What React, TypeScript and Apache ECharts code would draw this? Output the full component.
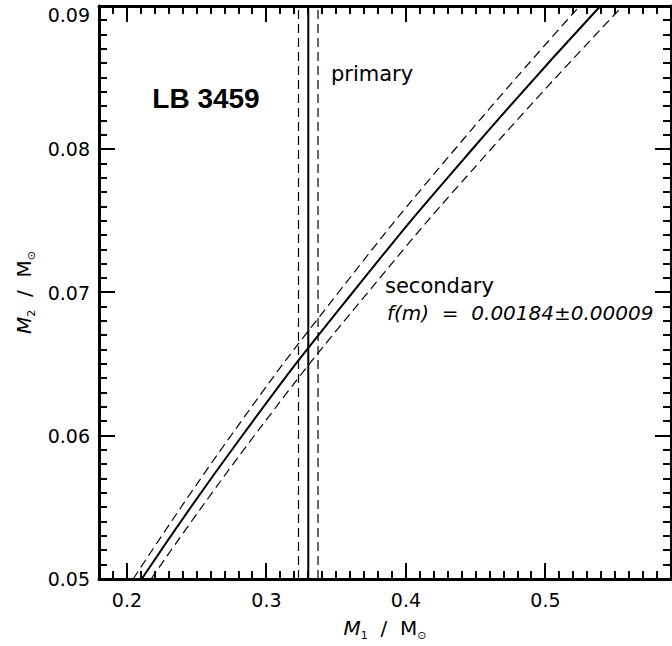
import React, { useEffect, useRef } from "react";
import * as echarts from "echarts";

// Axis ranges and ticks
const X_RANGE = [0.18, 0.59];
const Y_RANGE = [0.05, 0.09];
const X_MAJOR_TICKS = [0.2, 0.3, 0.4, 0.5];
const Y_MAJOR_TICKS = [0.05, 0.06, 0.07, 0.08, 0.09];
const X_MINOR_STEP = 0.01;
const Y_MINOR_STEP = 0.001;

// Secondary: mass-function curve, M2 values and corresponding M1
const SEC_M2 = [0.05, 0.06, 0.07, 0.08, 0.09];
const SEC_M1 = [0.2106, 0.2826, 0.3618, 0.4475, 0.5394];
const SEC_M1_UPPER_F = [0.2045, 0.2745, 0.3516, 0.4351, 0.5246];
const SEC_M1_LOWER_F = [0.2173, 0.2913, 0.3727, 0.4609, 0.5554];

// Primary mass and its error band
const PRIMARY_M1 = 0.33;
const PRIMARY_LOW = 0.323;
const PRIMARY_HIGH = 0.337;

const FONT = "'DejaVu Sans', sans-serif";

const W = 672;
const H = 646;
const GRID = { left: 99, right: 1, top: 6, bottom: 67 };
const MAJOR_LEN = 16;
const MINOR_LEN = 8;

function pairs(xs: number[], ys: number[]) {
  return xs.map((x, i) => [x, ys[i]]);
}

// tick positions along an axis: every minor step inside the range, flagged if major
function tickList(range: number[], step: number, majors: number[]) {
  const out: number[][] = [];
  const n0 = Math.ceil(range[0] / step - 1e-6);
  const n1 = Math.floor(range[1] / step + 1e-6);
  for (let n = n0; n <= n1; n++) {
    const v = Math.round(n * step * 1e6) / 1e6;
    const isMajor = majors.some((m) => Math.abs(m - v) < 1e-9) ? 1 : 0;
    out.push([v, isMajor]);
  }
  return out;
}

export default function App() {
  const ref = useRef<HTMLDivElement>(null);

  useEffect(() => {
    document.body.style.margin = "0";
    const chart = echarts.init(ref.current!, null, { renderer: "svg" });

    const frameLine = () => ({ show: true, onZero: false, lineStyle: { color: "#000", width: 3 } });
    const nameStyle = () => ({
      color: "#000",
      fontFamily: FONT,
      fontSize: 20,
      lineHeight: 26,
      rich: {
        i: { fontStyle: "italic", fontSize: 20, fontFamily: FONT, color: "#000", lineHeight: 26 },
        s: { fontSize: 11, fontFamily: FONT, color: "#000", verticalAlign: "bottom", lineHeight: 12 },
      },
    });

    const xMain = {
      type: "value",
      position: "bottom",
      min: X_RANGE[0],
      max: X_RANGE[1],
      splitLine: { show: false },
      axisLine: frameLine(),
      axisTick: { show: false },
      axisLabel: {
        show: true,
        customValues: X_MAJOR_TICKS,
        formatter: (v: number) => v.toFixed(1),
        color: "#000",
        fontFamily: FONT,
        fontSize: 19,
        margin: 11,
      },
      name: "{i|M}{s|1}  /  M{s|⊙}",
      nameLocation: "middle",
      nameGap: 36,
      nameTextStyle: nameStyle(),
    };
    const xTop = {
      type: "value",
      position: "top",
      min: X_RANGE[0],
      max: X_RANGE[1],
      splitLine: { show: false },
      axisLine: frameLine(),
      axisTick: { show: false },
      axisLabel: { show: false },
    };
    const yMain = {
      type: "value",
      position: "left",
      min: Y_RANGE[0],
      max: Y_RANGE[1],
      splitLine: { show: false },
      axisLine: frameLine(),
      axisTick: { show: false },
      axisLabel: {
        show: true,
        customValues: Y_MAJOR_TICKS,
        formatter: (v: number) =>
          Math.abs(v - Y_RANGE[1]) < 1e-9 ? "{top|" + v.toFixed(2) + "}" : v.toFixed(2),
        color: "#000",
        fontFamily: FONT,
        fontSize: 19,
        margin: 9,
        rich: { top: { fontFamily: FONT, fontSize: 19, color: "#000", padding: [18, 0, 0, 0] } },
      },
      name: "{i|M}{s|2}  /  M{s|⊙}",
      nameLocation: "middle",
      nameGap: 60,
      nameTextStyle: nameStyle(),
    };
    const yRight = {
      type: "value",
      position: "right",
      min: Y_RANGE[0],
      max: Y_RANGE[1],
      splitLine: { show: false },
      axisLine: frameLine(),
      axisTick: { show: false },
      axisLabel: { show: false },
    };

    const tickLine = (x1: number, y1: number, x2: number, y2: number) => ({
      type: "line",
      shape: { x1: Math.round(x1), y1: Math.round(y1), x2: Math.round(x2), y2: Math.round(y2) },
      style: { stroke: "#000000", lineWidth: 2, opacity: 1 },
    });

    // inward ticks on bottom and top frame, placed through the x scale
    const xTickSeries = {
      type: "custom",
      xAxisIndex: 0,
      yAxisIndex: 0,
      silent: true,
      clip: false,
      z: 10,
      data: tickList(X_RANGE, X_MINOR_STEP, X_MAJOR_TICKS).map((t) => [t[0], Y_RANGE[0], t[1]]),
      encode: { x: 0, y: 1 },
      renderItem: (params: any, api: any) => {
        const v = api.value(0);
        const len = api.value(2) ? MAJOR_LEN : MINOR_LEN;
        const b = api.coord([v, Y_RANGE[0]]);
        const t = api.coord([v, Y_RANGE[1]]);
        return {
          type: "group",
          children: [tickLine(b[0], b[1], b[0], b[1] - len), tickLine(t[0], t[1], t[0], t[1] + len)],
        };
      },
    };
    // inward ticks on left and right frame, placed through the y scale
    const yTickSeries = {
      type: "custom",
      xAxisIndex: 0,
      yAxisIndex: 0,
      silent: true,
      clip: false,
      z: 10,
      data: tickList(Y_RANGE, Y_MINOR_STEP, Y_MAJOR_TICKS).map((t) => [X_RANGE[0], t[0], t[1]]),
      encode: { x: 0, y: 1 },
      renderItem: (params: any, api: any) => {
        const v = api.value(1);
        const len = api.value(2) ? MAJOR_LEN : MINOR_LEN;
        const l = api.coord([X_RANGE[0], v]);
        const r = api.coord([X_RANGE[1], v]);
        return {
          type: "group",
          children: [tickLine(l[0], l[1], l[0] + len, l[1]), tickLine(r[0], r[1], r[0] - len, r[1])],
        };
      },
    };

    const solid = { color: "#000", width: 2, type: "solid" };
    const dashed = { color: "#000", width: 1.2, type: [9, 5] };

    const vline = (x: number, style: any) => ({
      type: "line",
      xAxisIndex: 0,
      yAxisIndex: 0,
      data: [
        [x, Y_RANGE[0]],
        [x, Y_RANGE[1]],
      ],
      symbol: "none",
      lineStyle: style,
      silent: true,
    });
    const curve = (xs: number[], style: any) => ({
      type: "line",
      xAxisIndex: 0,
      yAxisIndex: 0,
      data: pairs(xs, SEC_M2),
      smooth: true,
      symbol: "none",
      lineStyle: style,
      silent: true,
    });

    const text = (t: string, x: number, y: number, extra: any = {}) => ({
      type: "text",
      x,
      y,
      style: {
        text: t,
        fill: "#000",
        fontFamily: FONT,
        fontSize: 21,
        align: "left",
        textAlign: "left",
        verticalAlign: "middle",
        textVerticalAlign: "middle",
        ...extra,
      },
    });

    const option: any = {
      animation: false,
      grid: { ...GRID, containLabel: false, outerBoundsMode: "none" },
      xAxis: [xMain, xTop],
      yAxis: [yMain, yRight],
      series: [
        xTickSeries,
        yTickSeries,
        vline(PRIMARY_M1, solid),
        vline(PRIMARY_LOW, dashed),
        vline(PRIMARY_HIGH, dashed),
        curve(SEC_M1, solid),
        curve(SEC_M1_UPPER_F, dashed),
        curve(SEC_M1_LOWER_F, dashed),
      ],
      graphic: [
        text("LB 3459", 206, 98, {
          fontFamily: "'Liberation Sans', Arial, sans-serif",
          fontWeight: "bold",
          fontSize: 28,
          align: "center",
          textAlign: "center",
        }),
        text("primary", 331, 74),
        text("secondary", 385, 286),
        text("f(m)  =  0.00184±0.00009", 387, 313, { fontStyle: "italic", fontSize: 20 }),
      ],
    };

    chart.setOption(option);
    return () => chart.dispose();
  }, []);

  return <div ref={ref} style={{ width: W, height: H }} />;
}
